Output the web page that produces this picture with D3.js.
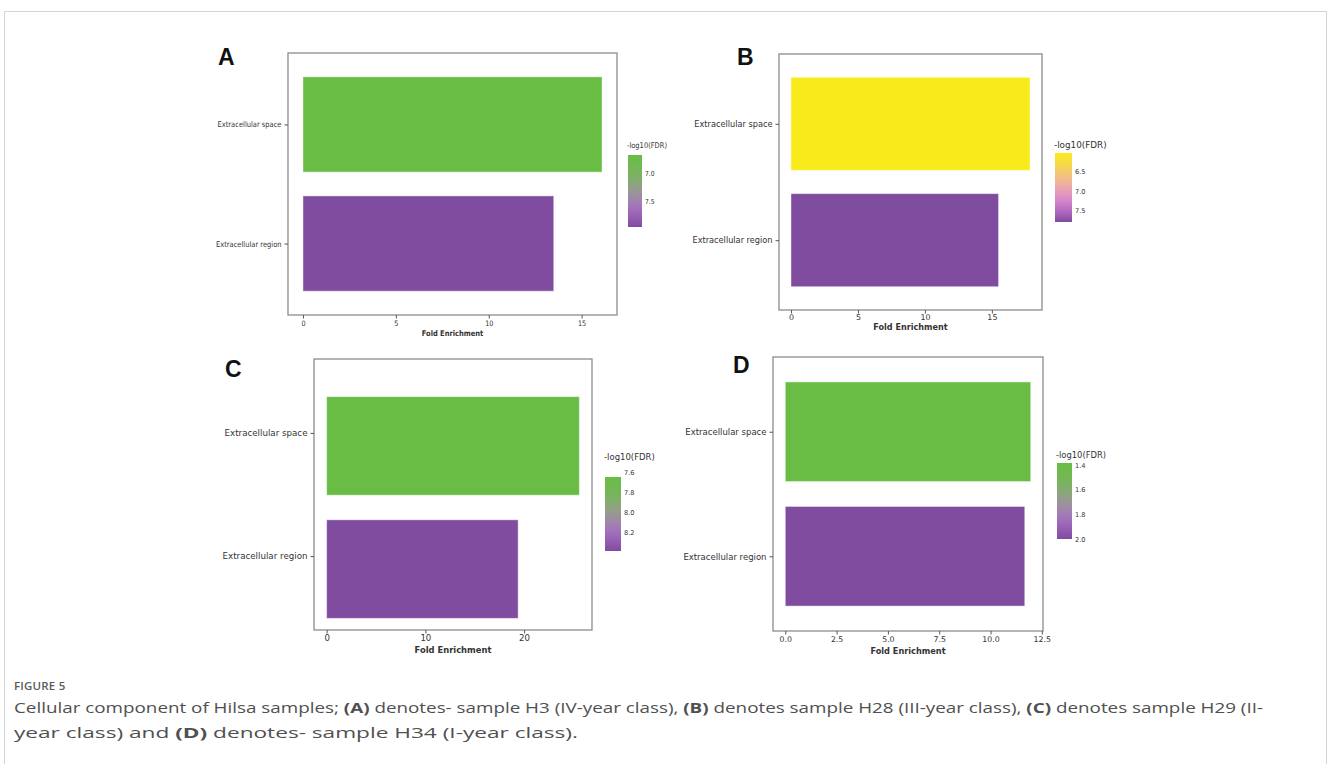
<!DOCTYPE html>
<html>
<head>
<meta charset="utf-8">
<script src="https://cdn.jsdelivr.net/npm/d3@7"></script>
<style>
  html, body { margin: 0; padding: 0; background: #fff; }
  svg { display: block; }
</style>
</head>
<body>
<svg id="fig" width="1328" height="764"></svg>
<script>
// GO cellular-component enrichment, one panel per sample
const categories = ["Extracellular space", "Extracellular region"];

const foldEnrichA = [16.1, 13.5];
const log10FdrA   = [6.68, 7.96];
const foldEnrichB = [17.85, 15.5];
const log10FdrB   = [6.05, 7.78];
const foldEnrichC = [25.6, 19.4];
const log10FdrC   = [7.65, 8.38];
const foldEnrichD = [11.96, 11.67];
const log10FdrD   = [1.384, 2.0];

const xTicksA = [0, 5, 10, 15];
const xTicksB = [0, 5, 10, 15];
const xTicksC = [0, 10, 20];
const xTicksD = [0, 2.5, 5, 7.5, 10, 12.5];

const cbarTicksA = [7.0, 7.5];
const cbarTicksB = [6.5, 7.0, 7.5];
const cbarTicksC = [7.6, 7.8, 8.0, 8.2];
const cbarTicksD = [1.4, 1.6, 1.8, 2.0];

const panelLetters = ["A", "B", "C", "D"];
const xAxisTitle = "Fold Enrichment";
const cbarTitle = "-log10(FDR)";

// colour maps (top of colour bar -> bottom)
const greenPurple = ["#69bd45", "#74b757", "#9b9b95", "#a96cc8", "#7f4c9f"];
const yellowPurple = ["#f9eb1b", "#f6cf62", "#efa7b6", "#d27bd6", "#7f4c9f"];

const svg = d3.select("#fig");
svg.append("rect").attr("width", 1328).attr("height", 764).attr("fill", "#fff");

// outer figure border (left, top, right)
svg.append("path")
  .attr("d", "M4.5,764 V11.5 H1326.5 V764")
  .attr("fill", "none").attr("stroke", "#d4d4d4").attr("stroke-width", 1);

const defs = svg.append("defs");

// horizontally condense text while keeping its anchor point in place
function squeeze(sel, f) {
  if (f === 1) return;
  sel.each(function () {
    const t = d3.select(this);
    const x0 = +(t.attr("x") || 0);
    t.attr("x", x0 / f).attr("transform", `scale(${f},1)`);
  });
}

function drawPanel(p) {
  const g = svg.append("g");
  const font = "DejaVu Sans";
  const txt = "#333";
  const fr = p.frame;

  const maxF = d3.max(p.fold);
  const x = d3.scaleLinear().domain([-0.05 * maxF, 1.05 * maxF]).range([fr.x0, fr.x1]);
  const y = d3.scaleLinear().domain([-0.6, 1.6]).range([fr.y0, fr.y1]);
  const shift = p.barShift || 0;

  const cDom = d3.extent(p.fdr);
  const cInterp = d3.interpolateRgbBasis(p.cmap);
  const cScale = d3.scaleLinear().domain(cDom).range([0, 1]);
  const color = v => cInterp(cScale(v));

  // bars
  g.selectAll("rect.bar").data(categories).join("rect")
    .attr("class", "bar")
    .attr("x", x(0))
    .attr("y", (d, i) => y(i - 0.4) + shift)
    .attr("width", (d, i) => x(p.fold[i]) - x(0))
    .attr("height", (d, i) => y(i + 0.4) - y(i - 0.4))
    .attr("fill", (d, i) => color(p.fdr[i]))
    .attr("stroke", "#ffffff").attr("stroke-opacity", 0.45).attr("stroke-width", 1);

  // axes frame
  g.append("rect")
    .attr("x", fr.x0).attr("y", fr.y0)
    .attr("width", fr.x1 - fr.x0).attr("height", fr.y1 - fr.y0)
    .attr("fill", "none").attr("stroke", "#8c8c8c").attr("stroke-width", 1.3);

  // x axis ticks & labels
  const xg = g.append("g").attr("transform", `translate(0,${fr.y1})`)
    .call(d3.axisBottom(x).tickValues(p.xTicks).tickFormat(p.xFmt).tickSize(3.5).tickPadding(2));
  xg.select(".domain").remove();
  xg.selectAll(".tick line").attr("stroke", "#555").attr("stroke-width", 1);
  xg.selectAll(".tick text")
    .attr("font-family", font).attr("font-size", p.fs.tick).attr("fill", txt)
    .attr("dy", null).attr("y", p.tickY - fr.y1);
  squeeze(xg.selectAll(".tick text"), p.sq);

  // y axis ticks & labels
  const yg = g.append("g").attr("transform", `translate(${fr.x0},0)`)
    .call(d3.axisLeft(y).tickValues([0, 1]).tickFormat((d) => categories[d]).tickSize(3.5).tickPadding(3));
  yg.select(".domain").remove();
  yg.selectAll(".tick line").attr("stroke", "#555").attr("stroke-width", 1);
  yg.selectAll(".tick text")
    .attr("font-family", font).attr("font-size", p.fs.ylab).attr("fill", txt);
  squeeze(yg.selectAll(".tick text"), p.sq);

  // x axis title
  const xt = g.append("text")
    .attr("x", (fr.x0 + fr.x1) / 2).attr("y", p.xTitleY)
    .attr("text-anchor", "middle")
    .attr("font-family", font).attr("font-weight", "bold")
    .attr("font-size", p.fs.xlab).attr("fill", txt)
    .text(xAxisTitle);
  squeeze(xt, p.sq);

  // panel letter
  g.append("text")
    .attr("x", p.letterPos[0]).attr("y", p.letterPos[1])
    .attr("font-family", "Liberation Sans, Arial, sans-serif").attr("font-weight", "bold")
    .attr("font-size", 23).attr("fill", "#111")
    .text(p.letter);

  // colour bar
  const cb = p.cbar;
  const gid = "grad" + p.letter;
  const grad = defs.append("linearGradient").attr("id", gid)
    .attr("x1", 0).attr("y1", 0).attr("x2", 0).attr("y2", 1);
  d3.range(0, 1.0001, 0.05).forEach(t => {
    grad.append("stop").attr("offset", t).attr("stop-color", cInterp(t));
  });
  g.append("rect")
    .attr("x", cb.x).attr("y", cb.y0)
    .attr("width", cb.w).attr("height", cb.y1 - cb.y0)
    .attr("fill", `url(#${gid})`);

  const cy = d3.scaleLinear().domain(cDom).range([cb.y0, cb.y1]);
  const cg = g.append("g").attr("transform", `translate(${cb.x + cb.w},0)`)
    .call(d3.axisRight(cy).tickValues(p.cbarTicks).tickFormat(d3.format(".1f")).tickSize(0).tickPadding(3));
  cg.select(".domain").remove();
  cg.selectAll(".tick text")
    .attr("font-family", font).attr("font-size", p.fs.cbt).attr("fill", txt);
  squeeze(cg.selectAll(".tick text"), p.sq);

  const ct = g.append("text")
    .attr("x", cb.x - 1).attr("y", p.cbTitleY)
    .attr("font-family", font).attr("font-size", p.fs.cbtitle).attr("fill", txt)
    .text(cbarTitle);
  squeeze(ct, p.sq);
}

const fmtInt = d3.format("d");
const fmt1 = d3.format(".1f");

drawPanel({
  letter: panelLetters[0], fold: foldEnrichA, fdr: log10FdrA,
  xTicks: xTicksA, xFmt: fmtInt, cbarTicks: cbarTicksA, cmap: greenPurple,
  frame: { x0: 288, y0: 53, x1: 617, y1: 315 },
  tickY: 326, xTitleY: 336, letterPos: [218, 65],
  cbar: { x: 628, w: 14, y0: 155, y1: 227 }, cbTitleY: 148,
  fs: { tick: 7.5, ylab: 7.8, xlab: 7.8, cbt: 7, cbtitle: 7.8 }, sq: 0.86
});

drawPanel({
  letter: panelLetters[1], fold: foldEnrichB, fdr: log10FdrB,
  xTicks: xTicksB, xFmt: fmtInt, cbarTicks: cbarTicksB, cmap: yellowPurple,
  frame: { x0: 779, y0: 54, x1: 1042, y1: 310 },
  tickY: 320, xTitleY: 330, letterPos: [737, 65],
  cbar: { x: 1055, w: 17, y0: 153, y1: 222 }, cbTitleY: 148,
  fs: { tick: 7.9, ylab: 8.2, xlab: 8.1, cbt: 6.6, cbtitle: 8.8 }, sq: 1
});

drawPanel({
  letter: panelLetters[2], fold: foldEnrichC, fdr: log10FdrC,
  xTicks: xTicksC, xFmt: fmtInt, cbarTicks: cbarTicksC, cmap: greenPurple,
  frame: { x0: 314, y0: 359, x1: 592, y1: 630 }, barShift: 13,
  tickY: 641, xTitleY: 653, letterPos: [225, 377],
  cbar: { x: 605, w: 16, y0: 477, y1: 551 }, cbTitleY: 460,
  fs: { tick: 8.6, ylab: 8.7, xlab: 8.4, cbt: 6.6, cbtitle: 8.5 }, sq: 1
});

drawPanel({
  letter: panelLetters[3], fold: foldEnrichD, fdr: log10FdrD,
  xTicks: xTicksD, xFmt: fmt1, cbarTicks: cbarTicksD, cmap: greenPurple,
  frame: { x0: 773, y0: 357, x1: 1043, y1: 631 },
  tickY: 642, xTitleY: 654, letterPos: [733, 373],
  cbar: { x: 1057, w: 15, y0: 463, y1: 539 }, cbTitleY: 458,
  fs: { tick: 7.8, ylab: 8.5, xlab: 8.2, cbt: 6.6, cbtitle: 8.4 }, sq: 1
});

// caption
const capFont = "Open Sans, Noto Sans, sans-serif";
svg.append("text")
  .attr("x", 14).attr("y", 690)
  .attr("font-family", capFont).attr("font-size", 11.5).attr("font-weight", 600)
  .attr("fill", "#5a5a5a").attr("letter-spacing", 0.2)
  .text("FIGURE 5");

const captionLines = [
  [["Cellular component of Hilsa samples; ", false], ["(A)", true],
   [" denotes- sample H3 (IV-year class), ", false], ["(B)", true],
   [" denotes sample H28 (III-year class), ", false], ["(C)", true],
   [" denotes sample H29 (II-", false]],
  [["year class) and ", false], ["(D)", true],
   [" denotes- sample H34 (I-year class).", false]]
];
const captionWidths = [1249, 564];
captionLines.forEach((line, li) => {
  const t = svg.append("text")
    .attr("x", 14).attr("y", 713 + li * 25)
    .attr("font-family", capFont).attr("font-size", 14.5)
    .attr("fill", "#505050");
  line.forEach(([s, b]) => {
    t.append("tspan").attr("font-weight", b ? "bold" : "normal").text(s);
  });
  t.attr("textLength", captionWidths[li]).attr("lengthAdjust", "spacingAndGlyphs");
});
</script>
</body>
</html>
